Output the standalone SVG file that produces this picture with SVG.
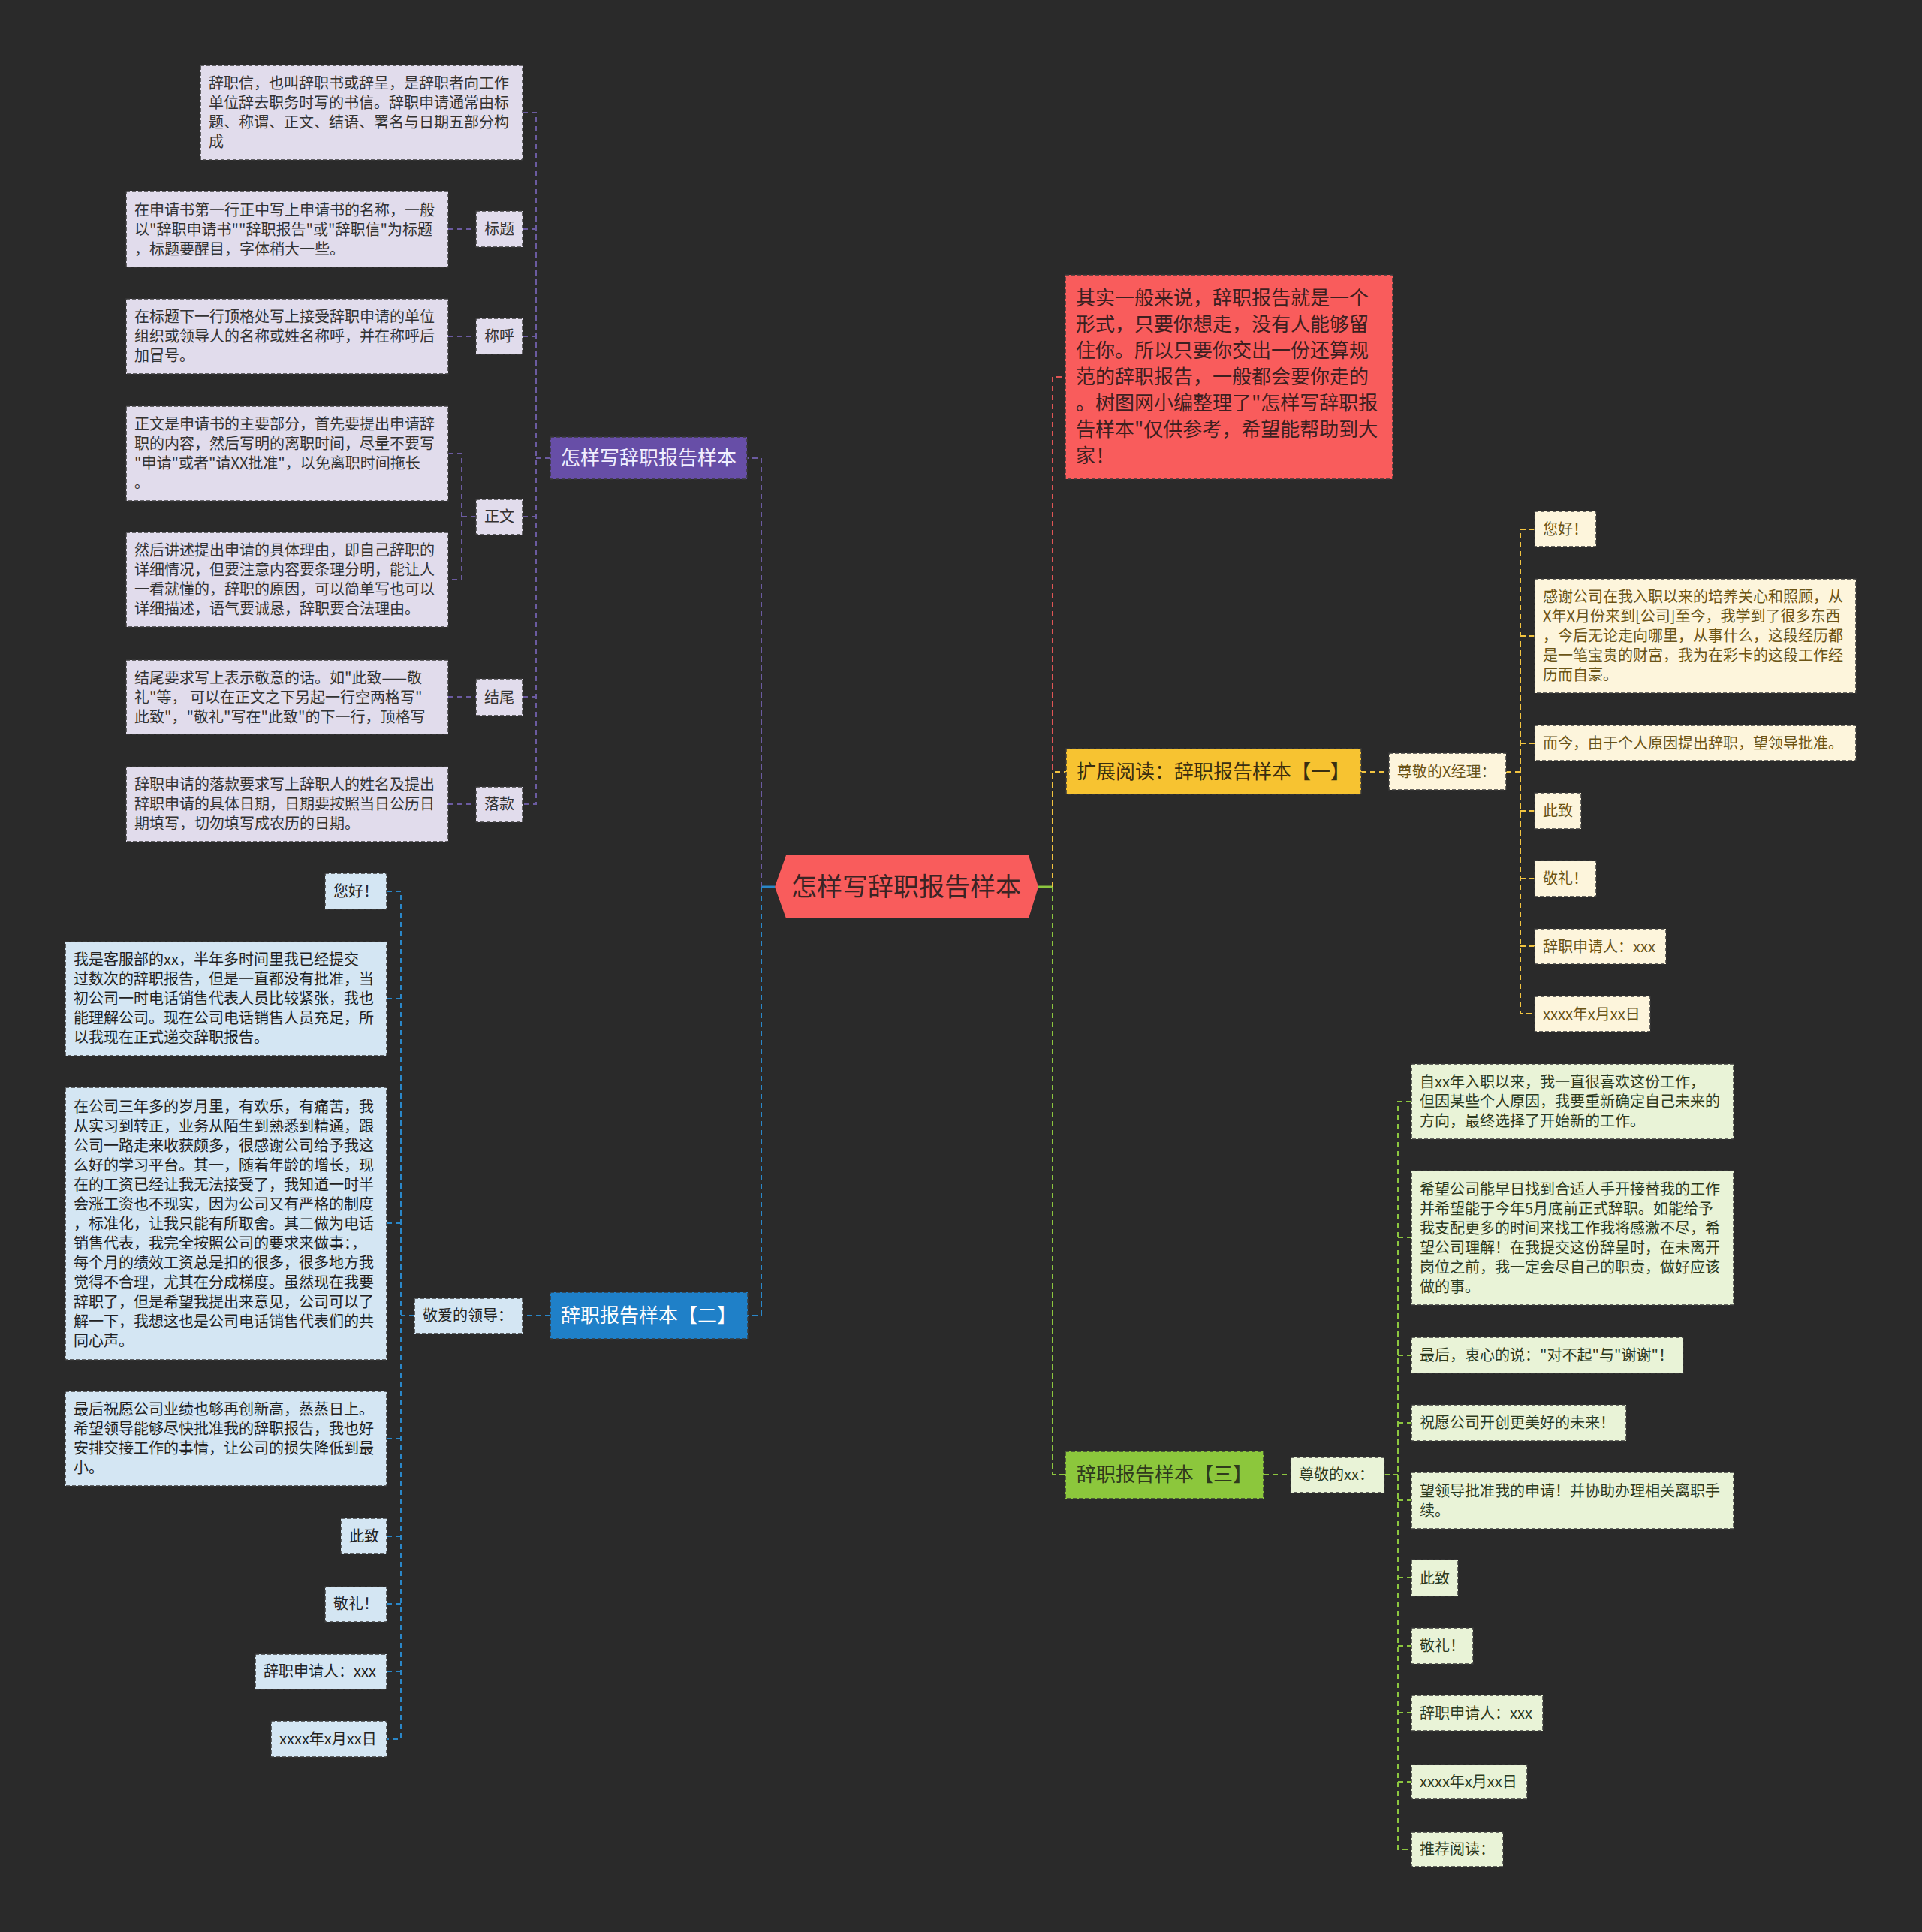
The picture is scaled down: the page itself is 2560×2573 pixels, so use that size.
<svg xmlns="http://www.w3.org/2000/svg" width="2560" height="2573" viewBox="0 0 2560 2573">
<style>
text{font-family:"Noto Sans CJK SC","Noto Sans",sans-serif;}
.f20{font-size:20px;}
.f26{font-size:26px;}
.bd{stroke:#3a3a3a;stroke-width:1.5;stroke-dasharray:5 3;}
.pc{fill:#e1dcec;} .pt{fill:#333333;}
.bc{fill:#d4e6f3;} .bt{fill:#222222;}
.yc{fill:#fdf5dc;} .yt{fill:#6b5416;}
.gc{fill:#e9f3d7;} .gt{fill:#2d3a1e;}
.c{fill:none;stroke-width:2;stroke-dasharray:7 5;}
.cp{stroke:#6b5ba0;} .cb{stroke:#2a87c8;} .cy{stroke:#f2c440;} .cg{stroke:#8cc63f;} .cr{stroke:#e05555;}
</style>
<rect x="0" y="0" width="2560" height="2573" fill="#2a2a2a"/>

<g id="connectors">
  <path d="M1014,1181 H1032" stroke="#2a87c8" stroke-width="3" fill="none"/>
  <path d="M1383,1181 H1402" stroke="#8cc63f" stroke-width="3" fill="none"/>
  <path class="c cp" d="M1014,1181 V610 H733"/>
  <path class="c cb" d="M1014,1181 V1752 H996"/>
  <path class="c cr" d="M1402,1181 V502 H1419"/>
  <path class="c cy" d="M1402,1181 V1028 H1420"/>
  <path class="c cg" d="M1402,1181 V1964 H1419"/>
  <!-- purple sub -->
  <path class="c cp" d="M733,610 H714"/>
  <path class="c cp" d="M696,150 H714 V1071 H696"/>
  <path class="c cp" d="M696,305 H714"/>
  <path class="c cp" d="M696,448 H714"/>
  <path class="c cp" d="M696,688 H714"/>
  <path class="c cp" d="M696,928 H714"/>
  <path class="c cp" d="M597,305 H634"/>
  <path class="c cp" d="M597,448 H634"/>
  <path class="c cp" d="M597,604 H615 V772 H597"/>
  <path class="c cp" d="M615,688 H634"/>
  <path class="c cp" d="M597,928 H634"/>
  <path class="c cp" d="M597,1071 H634"/>
  <!-- blue sub -->
  <path class="c cb" d="M733,1752 H696"/>
  <path class="c cb" d="M552,1752 H534"/>
  <path class="c cb" d="M515,1187 H534 V2316 H515"/>
  <path class="c cb" d="M515,1330 H534"/>
  <path class="c cb" d="M515,1629 H534"/>
  <path class="c cb" d="M515,1916 H534"/>
  <path class="c cb" d="M515,2046 H534"/>
  <path class="c cb" d="M515,2136 H534"/>
  <path class="c cb" d="M515,2226 H534"/>
  <!-- yellow sub -->
  <path class="c cy" d="M1813,1028 H1850"/>
  <path class="c cy" d="M2006,1028 H2025"/>
  <path class="c cy" d="M2044,705 H2025 V1350 H2044"/>
  <path class="c cy" d="M2025,847 H2044"/>
  <path class="c cy" d="M2025,990 H2044"/>
  <path class="c cy" d="M2025,1080 H2044"/>
  <path class="c cy" d="M2025,1170 H2044"/>
  <path class="c cy" d="M2025,1260 H2044"/>
  <!-- green sub -->
  <path class="c cg" d="M1683,1964 H1719"/>
  <path class="c cg" d="M1844,1964 H1862"/>
  <path class="c cg" d="M1880,1467 H1862 V2463 H1880"/>
  <path class="c cg" d="M1862,1648 H1880"/>
  <path class="c cg" d="M1862,1805 H1880"/>
  <path class="c cg" d="M1862,1895 H1880"/>
  <path class="c cg" d="M1862,1998 H1880"/>
  <path class="c cg" d="M1862,2101 H1880"/>
  <path class="c cg" d="M1862,2192 H1880"/>
  <path class="c cg" d="M1862,2281 H1880"/>
  <path class="c cg" d="M1862,2373 H1880"/>
</g>

<g id="root">
  <polygon points="1032,1181 1047,1139 1370,1139 1383,1181 1370,1223 1047,1223" fill="#f95c5c"/>
  <text x="1207" y="1193" font-size="34" text-anchor="middle" fill="#3b2424">怎样写辞职报告样本</text>
</g>

<g id="intro">
  <rect x="1419" y="366" width="436" height="272" fill="#f95c5c" class="bd"/>
  <text class="f26" fill="#3d1f1f">
    <tspan x="1433" y="406">其实一般来说，辞职报告就是一个</tspan>
    <tspan x="1433" y="441">形式，只要你想走，没有人能够留</tspan>
    <tspan x="1433" y="476">住你。所以只要你交出一份还算规</tspan>
    <tspan x="1433" y="511">范的辞职报告，一般都会要你走的</tspan>
    <tspan x="1433" y="546">。树图网小编整理了"怎样写辞职报</tspan>
    <tspan x="1433" y="581">告样本"仅供参考，希望能帮助到大</tspan>
    <tspan x="1433" y="616">家！</tspan>
  </text>
</g>

<!-- purple branch -->
<g id="b1">
  <rect x="733" y="582" width="262" height="56" fill="#674ea7" class="bd"/>
  <text x="864" y="619" class="f26" text-anchor="middle" fill="#f2eeff">怎样写辞职报告样本</text>
</g>
<g id="b1-def">
  <rect x="267" y="87" width="429" height="126" class="pc bd"/>
  <text class="f20 pt">
    <tspan x="278" y="118">辞职信，也叫辞职书或辞呈，是辞职者向工作</tspan>
    <tspan x="278" y="144">单位辞去职务时写的书信。辞职申请通常由标</tspan>
    <tspan x="278" y="170">题、称谓、正文、结语、署名与日期五部分构</tspan>
    <tspan x="278" y="196">成</tspan>
  </text>
</g>
<g id="b1-title">
  <rect x="634" y="281" width="62" height="48" class="pc bd"/>
  <text x="645" y="312" class="f20 pt">标题</text>
</g>
<g id="b1-title-d">
  <rect x="168" y="255" width="429" height="101" class="pc bd"/>
  <text class="f20 pt">
    <tspan x="179" y="287">在申请书第一行正中写上申请书的名称，一般</tspan>
    <tspan x="179" y="313">以"辞职申请书""辞职报告"或"辞职信"为标题</tspan>
    <tspan x="179" y="339">，标题要醒目，字体稍大一些。</tspan>
  </text>
</g>
<g id="b1-call">
  <rect x="634" y="424" width="62" height="48" class="pc bd"/>
  <text x="645" y="455" class="f20 pt">称呼</text>
</g>
<g id="b1-call-d">
  <rect x="168" y="398" width="429" height="100" class="pc bd"/>
  <text class="f20 pt">
    <tspan x="179" y="429">在标题下一行顶格处写上接受辞职申请的单位</tspan>
    <tspan x="179" y="455">组织或领导人的名称或姓名称呼，并在称呼后</tspan>
    <tspan x="179" y="481">加冒号。</tspan>
  </text>
</g>
<g id="b1-body">
  <rect x="634" y="665" width="62" height="47" class="pc bd"/>
  <text x="645" y="695" class="f20 pt">正文</text>
</g>
<g id="b1-body-d1">
  <rect x="168" y="541" width="429" height="126" class="pc bd"/>
  <text class="f20 pt">
    <tspan x="179" y="572">正文是申请书的主要部分，首先要提出申请辞</tspan>
    <tspan x="179" y="598">职的内容，然后写明的离职时间，尽量不要写</tspan>
    <tspan x="179" y="624">"申请"或者"请XX批准"，以免离职时间拖长</tspan>
    <tspan x="179" y="650">。</tspan>
  </text>
</g>
<g id="b1-body-d2">
  <rect x="168" y="709" width="429" height="126" class="pc bd"/>
  <text class="f20 pt">
    <tspan x="179" y="740">然后讲述提出申请的具体理由，即自己辞职的</tspan>
    <tspan x="179" y="766">详细情况，但要注意内容要条理分明，能让人</tspan>
    <tspan x="179" y="792">一看就懂的，辞职的原因，可以简单写也可以</tspan>
    <tspan x="179" y="818">详细描述，语气要诚恳，辞职要合法理由。</tspan>
  </text>
</g>
<g id="b1-end">
  <rect x="634" y="904" width="62" height="49" class="pc bd"/>
  <text x="645" y="936" class="f20 pt">结尾</text>
</g>
<g id="b1-end-d">
  <rect x="168" y="879" width="429" height="99" class="pc bd"/>
  <text class="f20 pt">
    <tspan x="179" y="910">结尾要求写上表示敬意的话。如"此致——敬</tspan>
    <tspan x="179" y="936">礼"等， 可以在正文之下另起一行空两格写"</tspan>
    <tspan x="179" y="962">此致"，"敬礼"写在"此致"的下一行，顶格写</tspan>
  </text>
</g>
<g id="b1-sign">
  <rect x="634" y="1048" width="62" height="47" class="pc bd"/>
  <text x="645" y="1078" class="f20 pt">落款</text>
</g>
<g id="b1-sign-d">
  <rect x="168" y="1021" width="429" height="100" class="pc bd"/>
  <text class="f20 pt">
    <tspan x="179" y="1052">辞职申请的落款要求写上辞职人的姓名及提出</tspan>
    <tspan x="179" y="1078">辞职申请的具体日期，日期要按照当日公历日</tspan>
    <tspan x="179" y="1104">期填写，切勿填写成农历的日期。</tspan>
  </text>
</g>

<!-- blue branch -->
<g id="b2">
  <rect x="733" y="1721" width="263" height="62" fill="#1f80c8" class="bd"/>
  <text x="864" y="1761" class="f26" text-anchor="middle" fill="#ffffff">辞职报告样本【二】</text>
</g>
<g id="b2-greet">
  <rect x="552" y="1729" width="144" height="47" class="bc bd"/>
  <text x="563" y="1759" class="f20 bt">敬爱的领导：</text>
</g>
<g id="b2-1">
  <rect x="433" y="1163" width="82" height="48" class="bc bd"/>
  <text x="444" y="1194" class="f20 bt">您好！</text>
</g>
<g id="b2-2">
  <rect x="87" y="1254" width="428" height="152" class="bc bd"/>
  <text class="f20 bt">
    <tspan x="98" y="1285">我是客服部的xx，半年多时间里我已经提交</tspan>
    <tspan x="98" y="1311">过数次的辞职报告，但是一直都没有批准，当</tspan>
    <tspan x="98" y="1337">初公司一时电话销售代表人员比较紧张，我也</tspan>
    <tspan x="98" y="1363">能理解公司。现在公司电话销售人员充足，所</tspan>
    <tspan x="98" y="1389">以我现在正式递交辞职报告。</tspan>
  </text>
</g>
<g id="b2-3">
  <rect x="87" y="1448" width="428" height="363" class="bc bd"/>
  <text class="f20 bt">
    <tspan x="98" y="1481">在公司三年多的岁月里，有欢乐，有痛苦，我</tspan>
    <tspan x="98" y="1507">从实习到转正，业务从陌生到熟悉到精通，跟</tspan>
    <tspan x="98" y="1533">公司一路走来收获颇多，很感谢公司给予我这</tspan>
    <tspan x="98" y="1559">么好的学习平台。其一，随着年龄的增长，现</tspan>
    <tspan x="98" y="1585">在的工资已经让我无法接受了，我知道一时半</tspan>
    <tspan x="98" y="1611">会涨工资也不现实，因为公司又有严格的制度</tspan>
    <tspan x="98" y="1637">，标准化，让我只能有所取舍。其二做为电话</tspan>
    <tspan x="98" y="1663">销售代表，我完全按照公司的要求来做事：，</tspan>
    <tspan x="98" y="1689">每个月的绩效工资总是扣的很多，很多地方我</tspan>
    <tspan x="98" y="1715">觉得不合理，尤其在分成梯度。虽然现在我要</tspan>
    <tspan x="98" y="1741">辞职了，但是希望我提出来意见，公司可以了</tspan>
    <tspan x="98" y="1767">解一下，我想这也是公司电话销售代表们的共</tspan>
    <tspan x="98" y="1793">同心声。</tspan>
  </text>
</g>
<g id="b2-4">
  <rect x="87" y="1853" width="428" height="126" class="bc bd"/>
  <text class="f20 bt">
    <tspan x="98" y="1884">最后祝愿公司业绩也够再创新高，蒸蒸日上。</tspan>
    <tspan x="98" y="1910">希望领导能够尽快批准我的辞职报告，我也好</tspan>
    <tspan x="98" y="1936">安排交接工作的事情，让公司的损失降低到最</tspan>
    <tspan x="98" y="1962">小。</tspan>
  </text>
</g>
<g id="b2-5">
  <rect x="454" y="2022" width="61" height="47" class="bc bd"/>
  <text x="465" y="2053" class="f20 bt">此致</text>
</g>
<g id="b2-6">
  <rect x="433" y="2113" width="82" height="47" class="bc bd"/>
  <text x="444" y="2143" class="f20 bt">敬礼！</text>
</g>
<g id="b2-7">
  <rect x="340" y="2203" width="175" height="47" class="bc bd"/>
  <text x="351" y="2233" class="f20 bt">辞职申请人：xxx</text>
</g>
<g id="b2-8">
  <rect x="361" y="2292" width="154" height="48" class="bc bd"/>
  <text x="372" y="2323" class="f20 bt">xxxx年x月xx日</text>
</g>

<!-- yellow branch -->
<g id="b3">
  <rect x="1420" y="997" width="393" height="61" fill="#f7c331" class="bd"/>
  <text x="1616" y="1037" class="f26" text-anchor="middle" fill="#3a2e10">扩展阅读：辞职报告样本【一】</text>
</g>
<g id="b3-greet">
  <rect x="1850" y="1003" width="156" height="49" class="yc bd"/>
  <text x="1861" y="1035" class="f20 yt">尊敬的X经理：</text>
</g>
<g id="b3-1">
  <rect x="2044" y="681" width="82" height="47" class="yc bd"/>
  <text x="2055" y="712" class="f20 yt">您好！</text>
</g>
<g id="b3-2">
  <rect x="2044" y="771" width="428" height="152" class="yc bd"/>
  <text class="f20 yt">
    <tspan x="2055" y="802">感谢公司在我入职以来的培养关心和照顾，从</tspan>
    <tspan x="2055" y="828">X年X月份来到[公司]至今，我学到了很多东西</tspan>
    <tspan x="2055" y="854">，今后无论走向哪里，从事什么，这段经历都</tspan>
    <tspan x="2055" y="880">是一笔宝贵的财富，我为在彩卡的这段工作经</tspan>
    <tspan x="2055" y="906">历而自豪。</tspan>
  </text>
</g>
<g id="b3-3">
  <rect x="2044" y="966" width="428" height="47" class="yc bd"/>
  <text x="2055" y="997" class="f20 yt">而今，由于个人原因提出辞职，望领导批准。</text>
</g>
<g id="b3-4">
  <rect x="2044" y="1056" width="62" height="48" class="yc bd"/>
  <text x="2055" y="1087" class="f20 yt">此致</text>
</g>
<g id="b3-5">
  <rect x="2044" y="1146" width="82" height="48" class="yc bd"/>
  <text x="2055" y="1177" class="f20 yt">敬礼！</text>
</g>
<g id="b3-6">
  <rect x="2044" y="1237" width="175" height="47" class="yc bd"/>
  <text x="2055" y="1268" class="f20 yt">辞职申请人：xxx</text>
</g>
<g id="b3-7">
  <rect x="2044" y="1327" width="154" height="47" class="yc bd"/>
  <text x="2055" y="1358" class="f20 yt">xxxx年x月xx日</text>
</g>

<!-- green branch -->
<g id="b4">
  <rect x="1419" y="1933" width="264" height="63" fill="#8cc73c" class="bd"/>
  <text x="1551" y="1973" class="f26" text-anchor="middle" fill="#2f3a1c">辞职报告样本【三】</text>
</g>
<g id="b4-greet">
  <rect x="1719" y="1941" width="125" height="47" class="gc bd"/>
  <text x="1730" y="1971" class="f20 gt">尊敬的xx：</text>
</g>
<g id="b4-1">
  <rect x="1880" y="1417" width="429" height="100" class="gc bd"/>
  <text class="f20 gt">
    <tspan x="1891" y="1448">自xx年入职以来，我一直很喜欢这份工作，</tspan>
    <tspan x="1891" y="1474">但因某些个人原因，我要重新确定自己未来的</tspan>
    <tspan x="1891" y="1500">方向，最终选择了开始新的工作。</tspan>
  </text>
</g>
<g id="b4-2">
  <rect x="1880" y="1559" width="429" height="179" class="gc bd"/>
  <text class="f20 gt">
    <tspan x="1891" y="1591">希望公司能早日找到合适人手开接替我的工作</tspan>
    <tspan x="1891" y="1617">并希望能于今年5月底前正式辞职。如能给予</tspan>
    <tspan x="1891" y="1643">我支配更多的时间来找工作我将感激不尽，希</tspan>
    <tspan x="1891" y="1669">望公司理解！在我提交这份辞呈时，在未离开</tspan>
    <tspan x="1891" y="1695">岗位之前，我一定会尽自己的职责，做好应该</tspan>
    <tspan x="1891" y="1721">做的事。</tspan>
  </text>
</g>
<g id="b4-3">
  <rect x="1880" y="1781" width="362" height="48" class="gc bd"/>
  <text x="1891" y="1812" class="f20 gt">最后，衷心的说："对不起"与"谢谢"！</text>
</g>
<g id="b4-4">
  <rect x="1880" y="1871" width="286" height="48" class="gc bd"/>
  <text x="1891" y="1902" class="f20 gt">祝愿公司开创更美好的未来！</text>
</g>
<g id="b4-5">
  <rect x="1880" y="1961" width="429" height="75" class="gc bd"/>
  <text class="f20 gt">
    <tspan x="1891" y="1993">望领导批准我的申请！并协助办理相关离职手</tspan>
    <tspan x="1891" y="2019">续。</tspan>
  </text>
</g>
<g id="b4-6">
  <rect x="1880" y="2077" width="62" height="49" class="gc bd"/>
  <text x="1891" y="2109" class="f20 gt">此致</text>
</g>
<g id="b4-7">
  <rect x="1880" y="2168" width="82" height="48" class="gc bd"/>
  <text x="1891" y="2199" class="f20 gt">敬礼！</text>
</g>
<g id="b4-8">
  <rect x="1880" y="2258" width="175" height="47" class="gc bd"/>
  <text x="1891" y="2289" class="f20 gt">辞职申请人：xxx</text>
</g>
<g id="b4-9">
  <rect x="1880" y="2350" width="154" height="46" class="gc bd"/>
  <text x="1891" y="2380" class="f20 gt">xxxx年x月xx日</text>
</g>
<g id="b4-10">
  <rect x="1880" y="2440" width="122" height="46" class="gc bd"/>
  <text x="1891" y="2470" class="f20 gt">推荐阅读：</text>
</g>
</svg>
